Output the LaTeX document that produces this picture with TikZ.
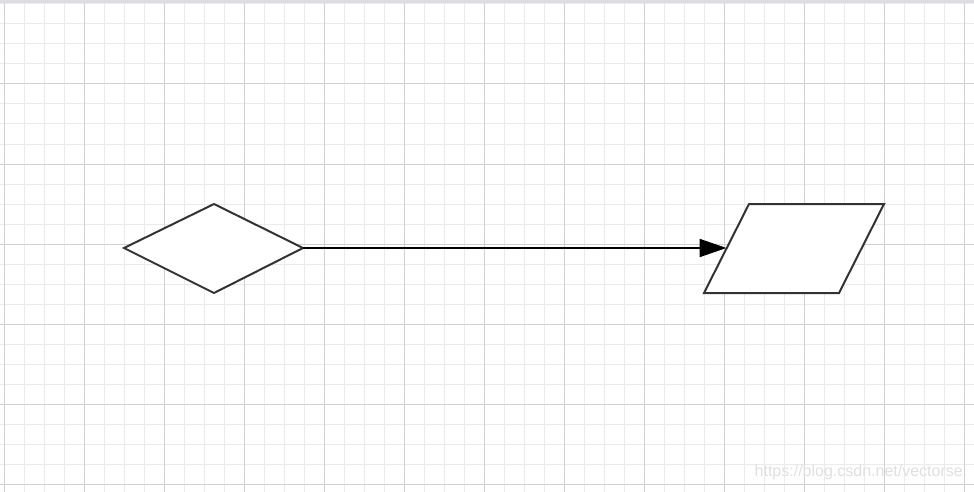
\documentclass[tikz,border=0pt]{standalone}
\usepackage{fontspec}
\setsansfont{Liberation Sans}
\usetikzlibrary{arrows.meta}
\definecolor{minorgrid}{HTML}{EBEBEB}
\definecolor{majorgrid}{HTML}{D0D0D0}
\definecolor{topband}{HTML}{DCDCE2}
\definecolor{shapeline}{HTML}{333333}
\definecolor{wmark}{HTML}{E0E0E0}
\tikzset{
  shapeedge/.style={draw=shapeline, line width=2pt, fill=white, line join=miter},
  flowarrow/.style={draw=black, line width=2pt, -{Triangle[length=27pt,width=18pt]}},
}
\begin{document}
\begin{tikzpicture}[x=1pt,y=-1pt]
\useasboundingbox (0,0) rectangle (974,492);
\fill[white] (0,0) rectangle (974,492);
% minor grid
\foreach \i in {0,...,48} {
  \draw[minorgrid, line width=1pt] ({4+20*\i},0) -- ({4+20*\i},492);
}
\foreach \j in {0,...,24} {
  \draw[minorgrid, line width=1pt] (0,{4+20*\j}) -- (974,{4+20*\j});
}
% major grid
\foreach \i in {0,...,12} {
  \draw[majorgrid, line width=1pt] ({4+80*\i},0) -- ({4+80*\i},492);
}
\foreach \j in {1,...,6} {
  \draw[majorgrid, line width=1pt] (0,{4+80*\j}) -- (974,{4+80*\j});
}
\fill[topband] (0,0) rectangle (974,3.5);
% diamond
\coordinate (dl) at (124,248);
\coordinate (dt) at (214,204);
\coordinate (dr) at (303,248);
\coordinate (db) at (214,293);
\draw[shapeedge] (dl) -- (dt) -- (dr) -- (db) -- cycle;
% parallelogram
\coordinate (ptl) at (749,204);
\coordinate (ptr) at (884,204);
\coordinate (pbr) at (839,293);
\coordinate (pbl) at (704,293);
\draw[shapeedge] (ptl) -- (ptr) -- (pbr) -- (pbl) -- cycle;
\coordinate (pin) at (726.5,248);
% connector
\draw[flowarrow] (dr) -- (pin);
% watermark
\node[anchor=base east, inner sep=0pt, text=wmark, font=\sffamily\fontsize{16}{18}\selectfont] (wm) at (963,476) {https://blog.csdn.net/vectorse};
\end{tikzpicture}
\end{document}
